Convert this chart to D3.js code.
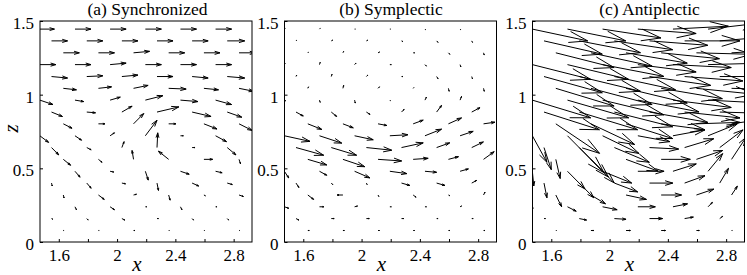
<!DOCTYPE html>
<html>
<head>
<meta charset="utf-8">
<script src="https://cdn.jsdelivr.net/npm/d3@7"></script>
<style>
body { margin: 0; background: #fff; }
</style>
</head>
<body>
<svg width="747" height="275"></svg>
<script>
// grid of the quiver plot (tails of the arrows)
var xCols = [1.470, 1.550, 1.631, 1.711, 1.792, 1.872, 1.952, 2.033, 2.113,
             2.194, 2.274, 2.354, 2.435, 2.515, 2.596, 2.676, 2.756, 2.837];
var zRows = [1.445, 1.365, 1.284, 1.204, 1.123, 1.043, 0.963, 0.882, 0.802,
             0.721, 0.641, 0.561, 0.480, 0.400, 0.319, 0.239, 0.159, 0.078];

var titles = ["(a) Synchronized", "(b) Symplectic", "(c) Antiplectic"];
var xTickValues = [1.6, 1.8, 2, 2.2, 2.4, 2.6, 2.8];
var xTickLabels = ["1.6", "", "2", "", "2.4", "", "2.8"];
var zTickValues = [0, 0.5, 1, 1.5];
var zTickLabels = ["0", "0.5", "1", "1.5"];

// vector components [u, w] in units of 0.01, one row per zRows entry,
// columns (k % 3) + 3j for row k
var fieldA = [
  [[10,0],[11,0],[11,0],[11,0],[11,0],[11,0]],
  [[11,0],[11,0],[11,0],[11,0],[11,0],[12,0]],
  [[11,0],[11,0],[11,1],[11,0],[11,0],[11,0]],
  [[11,0],[11,0],[11,1],[11,0],[11,0],[11,0]],
  [[11,-1],[11,0.5],[11,1],[11,0],[11,-1],[12,-1]],
  [[9,-1],[9,1],[10,2],[12,-0.5],[10,-1],[10,-2]],
  [[9,-3],[6,-1],[7,2],[12,3],[12,-1],[11,-3]],
  [[7.5,-3],[6,-0.5],[7,4],[15,3.5],[13,-3],[10,-3.5]],
  [[6,-3],[4.5,0],[7,7],[5,0],[9,-3.5],[9,-4.5]],
  [[6,-4.5],[4.5,-3],[3,2],[8,10.5],[2,0],[7.5,-4]],
  [[5,-5],[3,-1.5],[1.5,4],[0.5,10],[2,0],[6,-5]],
  [[5,-4],[2.5,-2],[-1,6],[-7,5.5],[6,0],[1,-3]],
  [[0,0],[3.5,-4],[2.5,-0.5],[2,-6],[6,-2],[4.5,-1]],
  [[0.5,-2],[3,-3.5],[2.5,-0.5],[1,-5],[4.5,-2],[3.5,-1]],
  [[0.5,-2],[4,-3],[2,0.5],[1,-3.5],[1,-0.5],[3,-1]],
  [[0,0],[1,-2],[3,-2],[1,0],[1,-2],[1,0]],
  [[1,-0.5],[1,-1],[2,-1],[1,0],[1,-1],[1,-1]],
  [[0.5,0],[0.5,0],[1,0],[0.5,0],[0.5,0],[0.5,0]]
];

var fieldB = [
  [[0.5,0.5],[0.5,0.5],[0.5,0],[0.5,0],[0.5,-0.5],[0.5,-0.5]],
  [[0.5,0.5],[1,0.5],[1,0.5],[1,-0.5],[1,-1],[0.5,-1]],
  [[0.5,0.5],[0.5,1],[1,0.5],[1,0],[1,-1],[0.5,-1.5]],
  [[0.5,1],[0.5,1.5],[1,1],[1,0],[1,-1],[0.5,-1.5]],
  [[0.5,1],[0.5,1.5],[1,1],[1,0],[1,-1.5],[0.5,-1.5]],
  [[0.5,1],[0.5,2],[1,1],[0.5,0.5],[0.5,-2],[0.5,-2]],
  [[1,-0.5],[0.5,-1.5],[0.5,-2],[0.5,-0.5],[1,2],[1,2.5]],
  [[5,-2.7],[3.7,-3],[2.5,-1.6],[1.8,1.8],[3.4,4.5],[5.7,3]],
  [[9.6,-3.8],[7.1,-2.7],[6,-1.1],[6.9,2.5],[9,4],[7.8,1.1]],
  [[17.6,-3.8],[15.3,-5],[12.8,-2.7],[12.4,0.7],[11.4,4.5],[9,3]],
  [[19,-5.2],[17.4,-5.2],[17.4,-1.8],[14.9,3.2],[9,3.2],[8,3.8]],
  [[13,-3.8],[15,-5],[16.2,-1.1],[10.3,0.7],[6.9,1.8],[7.3,5.2]],
  [[3,-4.5],[5,-2.7],[10.5,-4.5],[11.7,-1.6],[8,-0.7],[5.7,1.6]],
  [[2,-3],[1,-1],[0.5,-1],[5.7,-1.6],[5.7,-1.6],[3.4,1.8]],
  [[4,-3],[-4,0],[0.5,-1],[2,-1.5],[1,-0.5],[1,2]],
  [[3,-1],[3,0],[2,0.5],[1,0],[1,0],[1,0.5]],
  [[2,-1],[2,0],[2,0],[1.5,0],[1,0],[1,0]],
  [[1,0],[1,0],[1,0],[1,0],[1,0],[1,0]]
];

var fieldC = [
  [[38,-8],[40,-8],[40,-6],[40,-3],[38,2],[35,4]],
  [[40,-9],[42,-8],[40,-6],[40,-3],[38,0],[36,3]],
  [[40,-10],[42,-9],[42,-7],[40,-4],[38,-1],[36,2]],
  [[40,-10],[42,-10],[42,-8],[40,-5],[40,-2],[38,1]],
  [[40,-11],[42,-10],[42,-9],[42,-6],[40,-3],[38,0]],
  [[40,-12],[42,-11],[42,-10],[42,-7],[40,-4],[38,-1]],
  [[40,-12],[42,-12],[42,-10],[42,-8],[40,-5],[38,-2]],
  [[38,-12],[40,-12],[40,-10],[40,-7],[38,-4],[36,-1]],
  [[30,-20],[30,-14],[32,-10],[30,-4],[30,1],[28,4]],
  [[10,-18],[25,-25],[25,-12],[22,-4],[22,4],[20,8]],
  [[5,-15],[20,-20],[24,-10],[20,-1],[20,6],[16,12]],
  [[3,-13],[16,-16],[22,-8],[20,0],[18,6],[10,15]],
  [[1,-10],[12,-12],[20,-8],[18,0],[16,5],[10,12]],
  [[2,-10],[10,-10],[16,-6],[16,0],[14,5],[6,10]],
  [[4,-8],[10,-6],[14,-3],[14,0],[12,4],[4,6]],
  [[0.5,-1],[6,-3],[10,-2],[12,0],[10,2],[3,3]],
  [[1,0],[5,-1],[8,-0.5],[9,0],[6,1],[2,1.5]],
  [[0.5,0],[2,0],[3,0],[3,0],[2,0],[0.5,0]]
];

var fields = [fieldA, fieldB, fieldC];
var vecScale = 0.01;

var font = "'Liberation Serif', 'DejaVu Serif', 'Times New Roman', serif";
var svg = d3.select("svg");
var panelLeft = [40, 284.5, 532.5];
var titleShift = [1.5, 0.5, 11];
var pw = 212, panelTop = 21, ph = 221;

var x = d3.scaleLinear().domain([1.471, 2.926]).range([0, pw]);
var y = d3.scaleLinear().domain([0, 1.5]).range([ph, 0]);

// matlab style arrow head
var alpha = 0.33, beta = 0.3;

function arrowPath(d) {
  var x0 = x(d.x), y0 = y(d.z);
  var x1 = x(d.x + d.u * vecScale), y1 = y(d.z + d.w * vecScale);
  var dx = x1 - x0, dy = y1 - y0;
  var p = "M" + x0 + "," + y0 + "L" + x1 + "," + y1;
  p += "M" + (x1 - alpha * (dx + beta * dy)) + "," + (y1 - alpha * (dy - beta * dx));
  p += "L" + x1 + "," + y1;
  p += "L" + (x1 - alpha * (dx - beta * dy)) + "," + (y1 - alpha * (dy + beta * dx));
  return p;
}

fields.forEach(function(field, i) {
  var arrows = [];
  field.forEach(function(row, k) {
    row.forEach(function(v, j) {
      var c = (k % 3) + 3 * j;
      arrows.push({x: xCols[c], z: zRows[k], u: v[0], w: v[1]});
    });
  });

  var g = svg.append("g").attr("transform", "translate(" + panelLeft[i] + "," + panelTop + ")");

  g.append("clipPath").attr("id", "clip" + i)
    .append("rect").attr("width", pw).attr("height", ph);

  g.append("g").attr("clip-path", "url(#clip" + i + ")")
    .selectAll("path")
    .data(arrows)
    .enter()
    .append("path")
    .attr("d", arrowPath)
    .attr("fill", "none")
    .attr("stroke", "#000")
    .attr("stroke-width", 1);

  var xAxis = d3.axisBottom(x).tickValues(xTickValues)
    .tickFormat(function(d, n) { return xTickLabels[n]; })
    .tickSizeInner(-3).tickSizeOuter(0).tickPadding(7);
  var gx = g.append("g").attr("transform", "translate(0," + ph + ")").call(xAxis);

  var yAxis = d3.axisLeft(y).tickValues(zTickValues)
    .tickFormat(function(d, n) { return zTickLabels[n]; })
    .tickSizeInner(-3).tickSizeOuter(0).tickPadding(6);
  var gy = g.append("g").call(yAxis);

  [gx, gy].forEach(function(a) {
    a.attr("font-family", null).attr("font-size", null);
    a.select(".domain").remove();
    a.selectAll("line").attr("stroke", "#000");
    a.selectAll("text").style("font-family", font).style("font-size", "17px").attr("fill", "#000");
  });
  gy.selectAll("text").attr("dy", "0.45em");

  g.append("rect").attr("width", pw).attr("height", ph)
    .attr("fill", "none").attr("stroke", "#000").attr("stroke-width", 1);

  g.append("text").attr("x", pw / 2 + titleShift[i]).attr("y", -6)
    .attr("text-anchor", "middle")
    .style("font-family", font).style("font-size", "17.5px")
    .text(titles[i]);

  g.append("text").attr("x", pw / 2 - 9).attr("y", ph + 29)
    .attr("text-anchor", "middle")
    .style("font-family", font).style("font-size", "21px").style("font-style", "italic")
    .text("x");

  if (i == 0) {
    g.append("text").attr("transform", "translate(-22," + (ph / 2 - 3) + ") rotate(-90)")
      .attr("text-anchor", "middle")
      .style("font-family", font).style("font-size", "21px").style("font-style", "italic")
      .text("z");
  }
});
</script>
</body>
</html>
